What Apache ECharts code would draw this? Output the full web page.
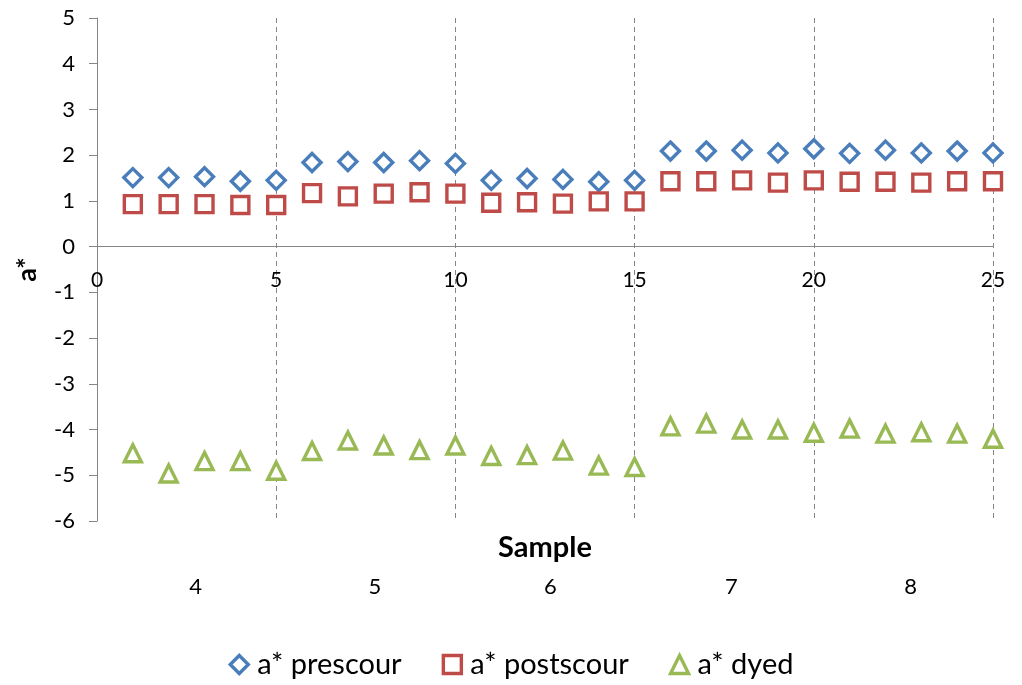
<!DOCTYPE html>
<html>
<head>
<meta charset="utf-8">
<script src="https://cdn.jsdelivr.net/npm/echarts@6/dist/echarts.min.js"></script>
<style>
html,body{margin:0;padding:0;background:#fff;}
#chart{width:1022px;height:685px;}
</style>
</head>
<body>
<div id="chart"></div>
<script>
var samples = [1,2,3,4,5,6,7,8,9,10,11,12,13,14,15,16,17,18,19,20,21,22,23,24,25];
var prescour = [1.51,1.51,1.53,1.43,1.45,1.84,1.86,1.84,1.88,1.82,1.45,1.49,1.47,1.42,1.45,2.09,2.09,2.11,2.05,2.14,2.04,2.11,2.05,2.09,2.05];
var postscour = [0.93,0.93,0.93,0.91,0.91,1.17,1.10,1.16,1.19,1.16,0.96,0.97,0.94,0.99,0.99,1.43,1.43,1.45,1.40,1.45,1.42,1.42,1.40,1.43,1.43];
var dyed = [-4.52,-4.96,-4.69,-4.69,-4.90,-4.47,-4.24,-4.35,-4.45,-4.35,-4.58,-4.56,-4.46,-4.79,-4.82,-3.93,-3.87,-4.00,-4.00,-4.07,-3.98,-4.09,-4.06,-4.09,-4.20];
var groupLabels = ['4','5','6','7','8'];
var groupCenters = [2.75, 7.75, 12.65, 17.7, 22.7];
var seriesNames = ['a* prescour','a* postscour','a* dyed'];
var colors = ['#4A7EBB','#BE4B48','#98B954'];

var FONT = 'Lato, "Open Sans", sans-serif';
var chart = echarts.init(document.getElementById('chart'));

var GRID_TOP = 18, GRID_BOTTOM = 164, H = 685;
var plotH = H - GRID_TOP - GRID_BOTTOM;
var yMin = -6, yMax = 5;
var zeroOffset = -plotH * (0 - yMin) / (yMax - yMin);

function pairs(arr){ return samples.map(function(s,i){ return [s, arr[i]]; }); }
function mk(name, data, symbol, size, color){
  return {
    name: name, type: 'scatter', data: pairs(data), symbol: symbol, symbolSize: size,
    itemStyle: {color: '#fff', borderColor: color, borderWidth: 3.4, opacity: 1},
    emphasis: {disabled: true}
  };
}

chart.setOption({
  animation: false,
  textStyle: {fontFamily: FONT},
  grid: {left: 97, right: 29, top: GRID_TOP, bottom: GRID_BOTTOM, containLabel: false},
  xAxis: [{
    type: 'value', min: 0, max: 25, interval: 5,
    axisLine: {onZero: true, lineStyle: {color: '#868686', width: 1}},
    axisTick: {show: false},
    axisLabel: {show: false},
    splitLine: {show: true, lineStyle: {color: '#868686', type: [5, 4], width: 1}}
  }, {
    type: 'value', min: 0, max: 25, interval: 5, position: 'bottom', offset: zeroOffset,
    axisLine: {show: false, onZero: false},
    axisTick: {show: false},
    axisLabel: {color: '#000', fontSize: 21, fontFamily: FONT, margin: 23},
    splitLine: {show: false}
  }],
  yAxis: {
    type: 'value', min: yMin, max: yMax, interval: 1,
    name: 'a*', nameLocation: 'middle', nameRotate: 90, nameGap: 56,
    nameTextStyle: {color: '#000', fontSize: 27, fontWeight: 'bold', fontFamily: FONT},
    axisLine: {show: true, lineStyle: {color: '#868686', width: 1}},
    axisTick: {show: true, length: 8, lineStyle: {color: '#868686'}},
    axisLabel: {color: '#000', fontSize: 22, fontFamily: FONT, margin: 22},
    splitLine: {show: false}
  },
  legend: {
    bottom: 1, left: 'center', itemGap: 40, itemWidth: 18, itemHeight: 18,
    textStyle: {color: '#000', fontSize: 29, fontFamily: FONT, padding: [0, 0, 0, 4]},
    itemStyle: {borderWidth: 3.4},
    data: seriesNames
  },
  series: [
    mk(seriesNames[0], prescour, 'diamond', 18, colors[0]),
    mk(seriesNames[1], postscour, 'rect', 17, colors[1]),
    mk(seriesNames[2], dyed, 'triangle', 17, colors[2])
  ]
});

var gx = [];
groupLabels.forEach(function(lbl, i){
  var p = chart.convertToPixel({gridIndex: 0}, [groupCenters[i], -6]);
  gx.push({type: 'text', x: p[0], y: 587, style: {text: lbl, fontSize: 22, fontFamily: FONT, fill: '#000', align: 'center', verticalAlign: 'middle'}});
});
var c0 = chart.convertToPixel({gridIndex: 0}, [0, -6]);
var c1 = chart.convertToPixel({gridIndex: 0}, [25, -6]);
gx.push({type: 'text', x: (c0[0] + c1[0]) / 2, y: 548, style: {text: 'Sample', fontSize: 29, fontWeight: 'bold', fontFamily: FONT, fill: '#000', align: 'center', verticalAlign: 'middle'}});
chart.setOption({graphic: gx});
</script>
</body>
</html>
